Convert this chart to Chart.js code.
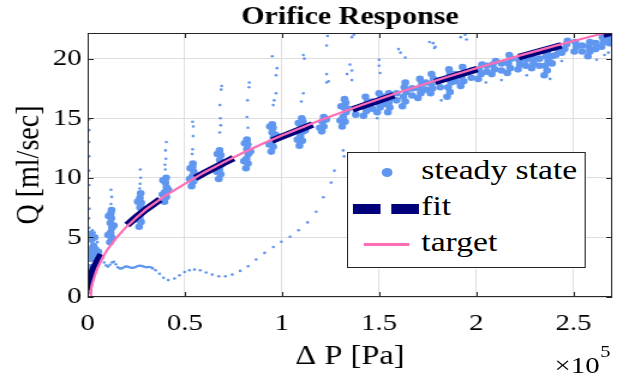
<!DOCTYPE html>
<html>
<head>
<meta charset="utf-8">
<script src="https://cdn.jsdelivr.net/npm/chart.js@4.4.1/dist/chart.umd.min.js"></script>
<style>
  html, body { margin: 0; padding: 0; background: #fff; overflow: hidden; }
  #wrap {
    position: absolute; left: 0; top: 0; width: 524px; height: 379px;
    transform: scaleX(1.2004); transform-origin: 0 0;
    font-family: "Liberation Serif", "Times New Roman", serif; color: #000;
  }
  #chart { position: absolute; left: 0; top: 0; }
  #legend {
    position: absolute; left: 289px; top: 152px; width: 199px; height: 116px;
    box-sizing: border-box; border: 1px solid #262626; background: #fff;
  }
  #legend .row {
    position: absolute; left: 61px; height: 36px; line-height: 36px; font-size: 28px; white-space: nowrap;
    font-family: "Liberation Serif", "Times New Roman", serif;
  }
  #legend .mark { position: absolute; }
  #mult {
    position: absolute; left: 462px; top: 353px; font-size: 24px; line-height: 24px; white-space: nowrap;
    font-family: "Liberation Serif", "Times New Roman", serif;
  }
  #mult sup { position: absolute; left: 38px; top: -10px; font-size: 17px; line-height: 17px; }
</style>
</head>
<body>
<div id="wrap">
  <canvas id="chart" width="524" height="379"></canvas>
  <div id="legend">
    <span class="mark" style="left:28px;top:15px;width:9px;height:9px;border-radius:50%;background:rgb(95,150,240)"></span>
    <div class="row" style="top:-1px">steady state</div>
    <span class="mark" style="left:4px;top:51px;width:23px;height:10px;background:#00007a"></span>
    <span class="mark" style="left:36px;top:51px;width:23px;height:10px;background:#00007a"></span>
    <div class="row" style="top:35px">fit</div>
    <span class="mark" style="left:13px;top:90px;width:38px;height:3px;background:#ff6eb4"></span>
    <div class="row" style="top:71px">target</div>
  </div>
  <div id="mult">×10<sup>5</sup></div>
</div>
<script>
const xTickValues = [0, 50000, 100000, 150000, 200000, 250000];
const yTickValues = [0, 5, 10, 15, 20];

// fitted curve [dP Pa, Q ml/sec]
const fitCurve = [
  [0, 0], [500, 0.95], [1000, 1.35], [2000, 1.9], [3500, 2.5], [5000, 3.0], [7500, 3.7],
  [10000, 4.26], [15000, 5.2], [20000, 6.0], [25000, 6.7], [30000, 7.35], [40000, 8.5],
  [50000, 9.5], [60000, 10.4], [70000, 11.25], [80000, 12.05], [90000, 12.8], [100000, 13.45],
  [120000, 14.75], [140000, 15.95], [160000, 17.05], [180000, 18.1], [200000, 19.1],
  [220000, 20.05], [240000, 20.95], [260000, 21.8], [270000, 22.2]
];

// target curve (pink)
const targetCurve = [
  [1400, 0], [1700, 0.6], [2200, 1.0], [3000, 1.45], [4000, 1.95], [5000, 2.4], [7500, 3.25],
  [10000, 3.95], [15000, 5.0], [20000, 5.9], [25000, 6.65], [30000, 7.35], [40000, 8.5],
  [50000, 9.5], [60000, 10.45], [70000, 11.3], [80000, 12.1], [90000, 12.85], [100000, 13.55],
  [120000, 14.85], [140000, 16.05], [160000, 17.15], [180000, 18.2], [200000, 19.2],
  [220000, 20.15], [240000, 21.05], [260000, 21.9], [270000, 22.3]
];

// steady state: dense clusters at each operating point
const steadyCore = [
  [500, 0.5], [800, 1.5], [1000, 2.5], [1500, 3.2], [2500, 3.6], [1200, 4.0], [3000, 4.3], [2000, 4.8],
  [4000, 4.0], [4500, 3.5], [3500, 5.0], [1500, 5.3], [5500, 3.8], [800, 3.5], [6000, 3.3],
  [11500, 4.6], [12300, 5.0], [11800, 5.4], [12500, 5.8], [11700, 6.2], [12200, 6.6], [11900, 7.0], [12300, 7.3],
  [10500, 5.2], [13500, 6.0], [10800, 6.8],
  [26500, 5.9], [27500, 6.3], [26800, 6.7], [27800, 7.1], [27000, 7.5], [27600, 7.9], [26900, 8.3], [27300, 8.7],
  [25500, 6.5], [28800, 7.4], [25800, 8.0],
  [39500, 8.0], [40500, 8.4], [39800, 8.8], [40600, 9.2], [40000, 9.6], [40400, 10.0],
  [38500, 8.6], [41500, 9.0], [38800, 9.8],
  [53500, 9.3], [54500, 9.7], [53800, 10.1], [54600, 10.5], [54000, 10.9], [54200, 11.2],
  [52500, 9.9], [55500, 10.2], [52800, 10.8],
  [67500, 9.9], [68500, 10.3], [67800, 10.7], [68700, 11.1], [68000, 11.5], [68500, 11.9], [67900, 12.3],
  [66500, 10.5], [69800, 11.3], [66800, 12.0],
  [81500, 10.8], [82500, 11.2], [81800, 11.6], [82700, 12.0], [82000, 12.4], [82400, 12.8], [82000, 13.2],
  [80500, 11.4], [83800, 12.2], [80800, 12.9],
  [94500, 12.2], [95500, 12.6], [94800, 13.0], [95700, 13.4], [95000, 13.8], [95400, 14.2], [95000, 14.5],
  [93500, 12.8], [96800, 13.6], [93800, 14.3],
  [109000, 12.7], [110500, 13.1], [109500, 13.5], [111000, 13.9], [110000, 14.3], [110800, 14.7], [110200, 15.0],
  [108000, 13.2], [112000, 14.0], [108500, 14.6],
  [120500, 13.9], [121500, 14.3], [120800, 14.7], [121500, 15.1], [119500, 14.2], [122800, 14.9],
  [131000, 14.3], [132500, 14.7], [131500, 15.1], [133000, 15.5], [132000, 15.9], [132800, 16.3], [132200, 16.6],
  [130000, 14.8], [134000, 15.8], [130500, 16.0],
  [138000, 15.3], [138000, 15.8],
  [142000, 15.2], [143500, 15.6], [142500, 16.0], [144000, 16.4], [143000, 16.8],
  [146500, 15.8], [146500, 16.4],
  [149000, 15.5], [150500, 15.9], [149500, 16.3], [151000, 16.7], [150000, 17.1],
  [152500, 16.2], [152500, 16.8],
  [154500, 15.5], [155500, 15.9], [155000, 16.3], [156000, 16.7], [155000, 17.1],
  [159000, 16.5], [159000, 17.1],
  [162000, 16.0], [163500, 16.4], [162500, 16.8], [164000, 17.2], [163000, 17.6], [163500, 18.0],
  [167000, 16.9], [167000, 17.5],
  [170000, 16.7], [171500, 17.1], [170500, 17.5], [172000, 17.9], [171000, 18.3],
  [174000, 17.4], [174000, 18.0],
  [176500, 17.1], [177500, 17.5], [177000, 17.9], [178000, 18.3], [177000, 18.7],
  [181500, 17.6], [181500, 18.2],
  [185000, 16.8], [186500, 17.2], [185500, 17.6], [187000, 18.0], [186000, 18.4], [186500, 18.8], [186000, 19.1],
  [189500, 18.1], [189500, 18.7],
  [192000, 17.7], [193500, 18.1], [192500, 18.5], [194000, 18.9], [193000, 19.3],
  [197500, 18.4], [197500, 19.0],
  [201000, 18.3], [202500, 18.7], [201500, 19.1], [203000, 19.5],
  [205500, 18.9], [205500, 19.4],
  [208000, 18.7], [209500, 19.1], [208500, 19.5], [210000, 19.8],
  [213000, 19.0], [213000, 19.6],
  [216000, 18.8], [217500, 19.2], [216500, 19.6], [218000, 20.0], [217000, 20.3],
  [221500, 19.1], [222500, 19.5], [222000, 19.9],
  [225500, 19.4], [225500, 19.9],
  [228500, 19.2], [229500, 19.6], [229000, 20.0],
  [232500, 19.4], [232500, 20.0],
  [235000, 18.6], [236500, 19.0], [235500, 19.4], [237000, 19.8], [236000, 20.2], [236500, 20.5],
  [239000, 19.6], [239000, 20.2],
  [241000, 20.3], [242000, 20.8], [244000, 20.5],
  [245500, 20.8], [246500, 21.2], [247000, 21.5],
  [250500, 20.6], [251500, 21.0], [251000, 21.4],
  [254500, 20.6], [254500, 21.1],
  [257500, 20.2], [258500, 20.6], [258000, 21.0], [258500, 21.4],
  [261500, 20.8], [261500, 21.3],
  [264500, 21.0], [265500, 21.4], [265000, 21.8],
  [268500, 21.3], [268500, 21.8]
];

// steady state: single samples (spikes, outliers, start-up transient)
const steadySparse = [
  [800, 5.8], [700, 6.6], [900, 7.4], [700, 8.3], [800, 9.4], [700, 10.6], [800, 11.8], [700, 13.0], [800, 14.0], [700, 14.9],
  [2500, 5.6], [3500, 5.4], [5000, 4.6],
  [12000, 7.8], [12400, 8.4], [12000, 9.0],
  [26800, 9.1], [27000, 9.5], [27300, 10.0], [27100, 10.7],
  [39800, 11.1], [40000, 10.7], [40300, 11.6], [40100, 12.3], [40500, 13.0],
  [53800, 12.0], [54000, 12.4], [54300, 13.5], [54400, 14.3], [54000, 14.7],
  [68000, 13.8], [68500, 14.4], [68300, 15.0], [68100, 16.1], [69000, 17.7], [68700, 17.4],
  [82500, 14.2], [82000, 15.1], [82300, 16.5], [83000, 17.6], [83200, 18.0],
  [95500, 16.1], [96000, 16.5], [97000, 17.1], [97000, 18.6], [97500, 19.2], [95000, 20.2],
  [110000, 16.4], [111000, 17.1], [111000, 20.3], [111500, 20.0],
  [123000, 18.0], [123000, 18.7], [124000, 18.1], [123000, 21.1], [123500, 21.9],
  [132000, 11.8], [131500, 12.3], [133500, 18.7], [135000, 19.5], [136000, 18.2], [136000, 19.0], [136000, 21.8], [137000, 22.0],
  [149000, 15.0], [150000, 19.4], [150500, 18.8], [150000, 19.9],
  [161000, 20.5], [163500, 20.1], [160000, 20.8],
  [176000, 21.4], [177800, 21.3], [179000, 21.0], [178500, 20.9],
  [182000, 16.5], [192000, 21.8], [194300, 22.0], [195000, 21.6],
  [205000, 18.0], [213000, 18.2], [226000, 18.6], [238000, 18.3], [244000, 19.8], [262000, 19.9], [268000, 20.5], [266000, 20.3],
  [6500, 3.5], [7500, 3.2], [8500, 2.9], [9500, 2.65], [10500, 2.55], [11500, 2.7], [12500, 2.9], [13500, 2.95],
  [14500, 2.75], [15500, 2.5], [16500, 2.4], [17500, 2.4], [18500, 2.48], [19500, 2.55], [20500, 2.55], [21500, 2.5],
  [22500, 2.45], [23500, 2.45], [24500, 2.5], [25500, 2.58], [26500, 2.62], [27500, 2.62], [28500, 2.57], [29500, 2.52],
  [30500, 2.5], [31500, 2.52], [32500, 2.5], [33500, 2.4], [35000, 2.25], [37000, 1.95], [39000, 1.62], [41500, 1.42],
  [44700, 1.55], [47300, 1.83], [49900, 2.1], [52400, 2.25], [55000, 2.3], [57900, 2.25], [61000, 2.05], [64100, 1.88],
  [67500, 1.74], [70900, 1.74], [74400, 1.88], [78500, 2.19], [82600, 2.58], [86700, 3.15], [91100, 3.7], [95600, 4.2],
  [99700, 4.63], [104200, 5.05], [108600, 5.6], [113200, 6.26], [117600, 7.15], [121300, 8.37], [125300, 9.6], [127000, 10.6]
];

const serif = "'Liberation Serif', 'Times New Roman', serif";
const blue = "rgb(95,150,240)";

const toPoints = (pairs) => pairs.map(([x, y]) => ({ x, y }));

// axes box with inward tick marks, like the original figure
const boxPlugin = {
  id: "axesBox",
  afterDatasetsDraw(chart) {
    const { ctx, chartArea: a, scales } = chart;
    ctx.save();
    ctx.strokeStyle = "#262626";
    ctx.lineWidth = 1;
    ctx.strokeRect(Math.round(a.left) + 0.5, Math.round(a.top) + 0.5,
      Math.round(a.right - a.left) - 1, Math.round(a.bottom - a.top) - 1);
    ctx.beginPath();
    xTickValues.forEach((v) => {
      const px = Math.round(scales.x.getPixelForValue(v)) + 0.5;
      ctx.moveTo(px, a.bottom); ctx.lineTo(px, a.bottom - 5);
      ctx.moveTo(px, a.top); ctx.lineTo(px, a.top + 5);
    });
    yTickValues.forEach((v) => {
      const py = Math.round(scales.y.getPixelForValue(v)) + 0.5;
      ctx.moveTo(a.left, py); ctx.lineTo(a.left + 5, py);
      ctx.moveTo(a.right, py); ctx.lineTo(a.right - 5, py);
    });
    ctx.stroke();
    ctx.restore();
  },
};

new Chart(document.getElementById("chart"), {
  type: "scatter",
  data: {
    datasets: [
      {
        label: "target",
        data: toPoints(targetCurve),
        showLine: true,
        borderColor: "#ff6eb4",
        borderWidth: 2.2,
        pointRadius: 0,
        order: 0,
        clip: 0,
      },
      {
        label: "fit",
        data: toPoints(fitCurve),
        showLine: true,
        borderColor: "#00007a",
        borderWidth: 6.5,
        borderDash: [37.5, 36.5],
        borderDashOffset: -7,
        borderCapStyle: "butt",
        pointRadius: 0,
        order: 1,
        clip: 0,
      },
      {
        label: "steady state",
        data: toPoints(steadyCore),
        pointRadius: 3.3,
        backgroundColor: blue,
        borderWidth: 0,
        order: 2,
        clip: 0,
      },
      {
        label: "steady state",
        data: toPoints(steadySparse),
        pointRadius: 1.3,
        backgroundColor: blue,
        borderWidth: 0,
        order: 2,
        clip: 0,
      },
    ],
  },
  options: {
    responsive: false,
    animation: false,
    devicePixelRatio: 1,
    layout: { padding: { left: 0, right: 14, top: 0, bottom: 0 } },
    plugins: {
      legend: { display: false },
      tooltip: { enabled: false },
      title: {
        display: true,
        text: "Orifice Response",
        fullSize: false,
        color: "#000",
        font: { family: serif, size: 25, weight: "bold" },
        padding: { top: 3, bottom: 0 },
      },
    },
    scales: {
      x: {
        type: "linear",
        min: 0,
        max: 270000,
        afterFit: (s) => { s.height = 82; },
        afterBuildTicks: (s) => { s.ticks = xTickValues.map((v) => ({ value: v })); },
        ticks: {
          callback: (v) => String(v / 100000),
          color: "#000",
          font: { family: serif, size: 24 },
          padding: 12,
          maxRotation: 0,
          autoSkip: false,
        },
        grid: { color: "#dedede", lineWidth: 1, drawTicks: false },
        border: { display: false },
        title: {
          display: true,
          text: "Δ P [Pa]",
          color: "#000",
          font: { family: serif, size: 27 },
          padding: { top: 0, bottom: 6 },
        },
      },
      y: {
        min: 0,
        max: 22.15,
        afterFit: (s) => { s.width = 73; },
        afterBuildTicks: (s) => { s.ticks = yTickValues.map((v) => ({ value: v })); },
        ticks: {
          color: "#000",
          font: { family: serif, size: 24 },
          padding: 5,
          autoSkip: false,
        },
        grid: { color: "#dedede", lineWidth: 1, drawTicks: false },
        border: { display: false },
        title: {
          display: true,
          text: "Q [ml/sec]",
          color: "#000",
          font: { family: serif, size: 28 },
          padding: { top: 8, bottom: 0 },
        },
      },
    },
  },
  plugins: [boxPlugin],
});
</script>
</body>
</html>
